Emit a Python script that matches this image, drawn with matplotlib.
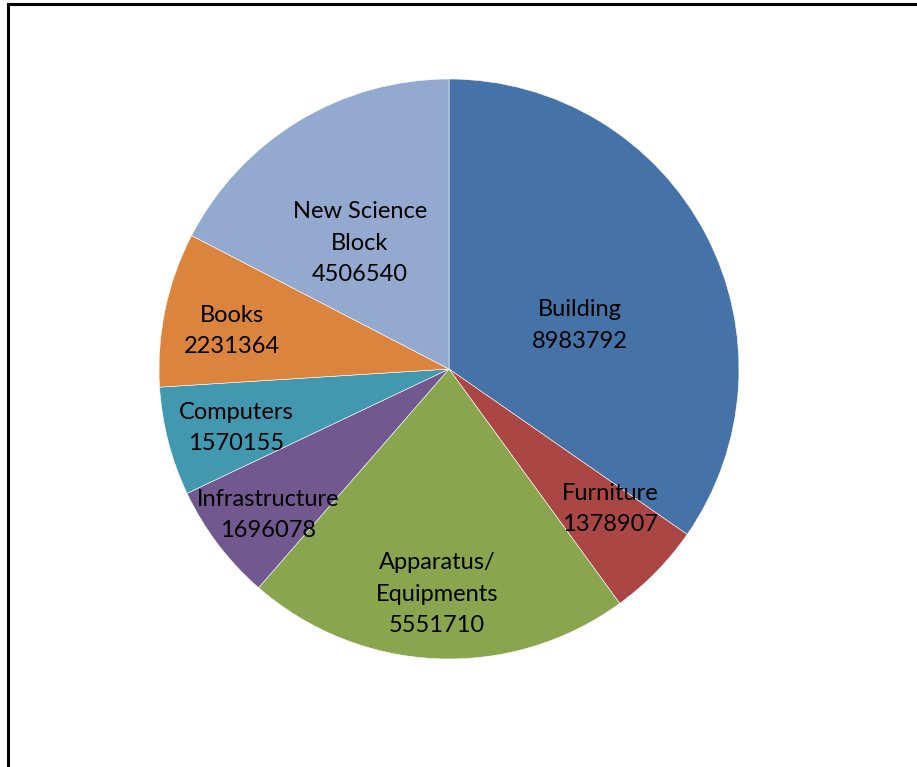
import matplotlib
matplotlib.use("Agg")
import matplotlib.pyplot as plt
from matplotlib.lines import Line2D

categories = ["Building", "Furniture", "Apparatus/\nEquipments", "Infrastructure",
              "Computers", "Books", "New Science\nBlock"]
values = [8983792, 1378907, 5551710, 1696078, 1570155, 2231364, 4506540]
colors = ["#4572A7", "#AA4643", "#89A54E", "#71588F", "#4198AF", "#DB843D", "#93A9CF"]

# label centres (data units, pie radius = 1), Excel "best fit" style
label_pos = [(0.452, 0.150), (0.555, -0.483), (-0.041, -0.776), (-0.624, -0.503),
             (-0.734, -0.203), (-0.748, 0.131), (-0.307, 0.434)]

W, H = 917, 767
fig = plt.figure(figsize=(W / 100, H / 100), dpi=100)

cx, cy, r = 449, 369, 290
ax = fig.add_axes([(cx - r) / W, (H - cy - r) / H, 2 * r / W, 2 * r / H])

labels = [f"{c}\n{v}" for c, v in zip(categories, values)]
wedges, texts = ax.pie(values, colors=colors, startangle=90, counterclock=False,
                       labels=labels, labeldistance=0.5, radius=1,
                       wedgeprops=dict(edgecolor="white", linewidth=0.4),
                       textprops=dict(fontsize=17, family=["Lato", "DejaVu Sans"],
                                      ha="center", va="center", linespacing=1.62))
for t, (x, y) in zip(texts, label_pos):
    t.set_position((x, y))
    t.set_ha("center")
    t.set_va("center")
    t.set_multialignment("center")

ax.set_xlim(-1, 1)
ax.set_ylim(-1, 1)
ax.set_aspect("equal")
ax.axis("off")

# chart frame (left and top edges visible)
fig.add_artist(Line2D([8 / W, 8 / W], [0, 1 - 4 / H], color="black", linewidth=2.2,
                      transform=fig.transFigure))
fig.add_artist(Line2D([8 / W, 1], [1 - 4 / H, 1 - 4 / H], color="black", linewidth=2.2,
                      transform=fig.transFigure))

fig.savefig("out.png", dpi=100)
